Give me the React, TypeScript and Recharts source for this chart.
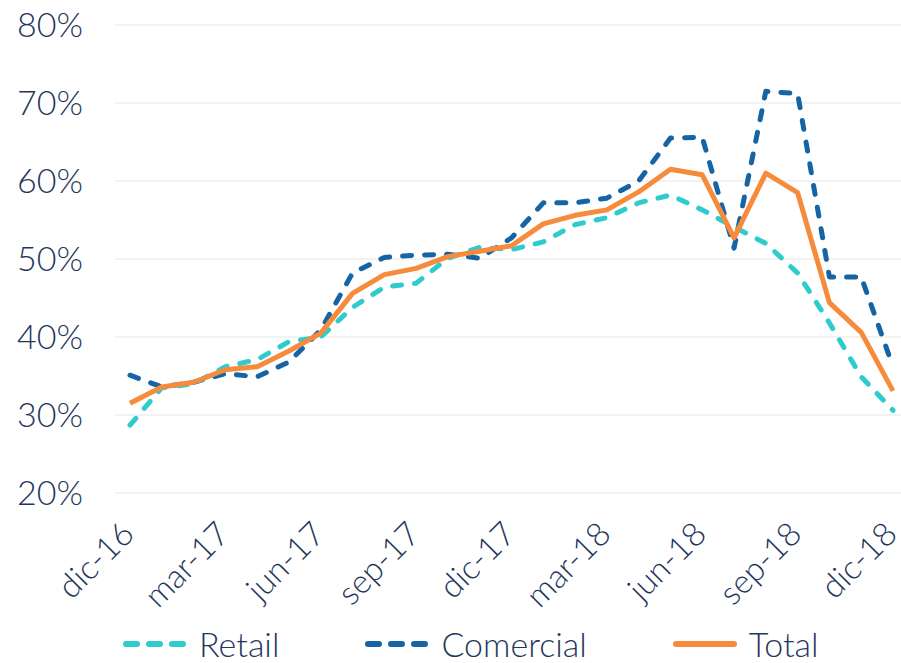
import { LineChart, Line, XAxis, YAxis, CartesianGrid, Legend } from 'recharts'

const months = [
  'dic-16', 'ene-17', 'feb-17', 'mar-17', 'abr-17', 'may-17', 'jun-17', 'jul-17', 'ago-17',
  'sep-17', 'oct-17', 'nov-17', 'dic-17', 'ene-18', 'feb-18', 'mar-18', 'abr-18', 'may-18',
  'jun-18', 'jul-18', 'ago-18', 'sep-18', 'oct-18', 'nov-18', 'dic-18',
]

const retail = [
  28.7, 33.5, 34.0, 36.2, 37.1, 39.4, 40.0, 43.8, 46.4, 46.9, 50.1, 51.5, 51.2,
  52.2, 54.4, 55.3, 57.2, 58.2, 56.3, 54.1, 52.0, 48.2, 41.8, 34.9, 30.6,
]
const comercial = [
  35.1, 33.6, 34.2, 35.3, 34.9, 36.8, 40.9, 48.2, 50.2, 50.5, 50.6, 50.1, 52.7,
  57.2, 57.2, 57.8, 60.0, 65.5, 65.6, 51.4, 71.5, 71.2, 47.7, 47.7, 36.2,
]
const total = [
  31.5, 33.6, 34.2, 35.8, 36.2, 38.2, 40.5, 45.6, 48.0, 48.8, 50.3, 51.0, 51.7,
  54.5, 55.6, 56.3, 58.6, 61.5, 60.8, 52.7, 61.0, 58.5, 44.4, 40.6, 33.1,
]

const yTicks = [20, 30, 40, 50, 60, 70, 80]

const FONT = 'Lato, "Open Sans", sans-serif'
const TEXT = '#1f375c'
const C_RETAIL = '#2ecccc'
const C_COMERCIAL = '#1565a6'
const C_TOTAL = '#f68b3c'

const data = months.map((m, i) => ({
  m,
  retail: retail[i],
  comercial: comercial[i],
  total: total[i],
}))

// eslint-disable-next-line @typescript-eslint/no-explicit-any
function MonthTick({ x, y, payload }: any) {
  const ax = x + 6
  const ay = y + 35
  return (
    <text
      x={ax}
      y={ay}
      transform={`rotate(-45, ${ax}, ${ay})`}
      textAnchor="end"
      fill={TEXT}
      fontSize={33}
      fontWeight={300}
      fontFamily={FONT}
    >
      {payload.value}
    </text>
  )
}

const legendItems = [
  { label: 'Retail', color: C_RETAIL, dashed: true },
  { label: 'Comercial', color: C_COMERCIAL, dashed: true },
  { label: 'Total', color: C_TOTAL, dashed: false },
]

function LegendRow() {
  return (
    <div style={{ display: 'flex', alignItems: 'center', paddingLeft: 121, paddingTop: 30, fontFamily: FONT }}>
      {legendItems.map((it) => (
        <div key={it.label} style={{ display: 'flex', alignItems: 'center', marginRight: 84 }}>
          <svg width={68} height={10}>
            <line
              x1={5}
              y1={5}
              x2={63}
              y2={5}
              stroke={it.color}
              strokeWidth={6}
              strokeLinecap="round"
              strokeDasharray={it.dashed ? '11 12' : undefined}
            />
          </svg>
          <span style={{ marginLeft: 10, fontSize: 34, fontWeight: 300, color: TEXT }}>{it.label}</span>
        </div>
      ))}
    </div>
  )
}

export default function App() {
  return (
    <div style={{ position: 'absolute', left: 0, top: 0, background: '#fff' }}>
      <LineChart width={901} height={663} data={data} margin={{ top: 25, right: 0, bottom: 0, left: 0 }}>
        <CartesianGrid vertical={false} stroke="#eeeeee" strokeWidth={1.5} />
        <XAxis
          dataKey="m"
          interval={2}
          padding={{ left: 15, right: 8 }}
          axisLine={false}
          tickLine={false}
          height={100}
          tick={<MonthTick />}
        />
        <YAxis
          domain={[20, 80]}
          ticks={yTicks}
          width={115}
          axisLine={false}
          tickLine={false}
          tickSize={0}
          tickMargin={32}
          tickFormatter={(v: number) => `${v}%`}
          tick={{ fill: TEXT, fontSize: 34, fontWeight: 300, fontFamily: FONT }}
        />
        <Legend verticalAlign="bottom" height={70} content={() => <LegendRow />} />
        <Line
          dataKey="comercial"
          stroke={C_COMERCIAL}
          strokeWidth={5}
          strokeDasharray="9 13"
          strokeLinecap="round"
          strokeLinejoin="round"
          dot={false}
          isAnimationActive={false}
        />
        <Line
          dataKey="retail"
          stroke={C_RETAIL}
          strokeWidth={5}
          strokeDasharray="9 13"
          strokeLinecap="round"
          strokeLinejoin="round"
          dot={false}
          isAnimationActive={false}
        />
        <Line
          dataKey="total"
          stroke={C_TOTAL}
          strokeWidth={5}
          strokeLinejoin="round"
          dot={false}
          isAnimationActive={false}
        />
      </LineChart>
    </div>
  )
}
